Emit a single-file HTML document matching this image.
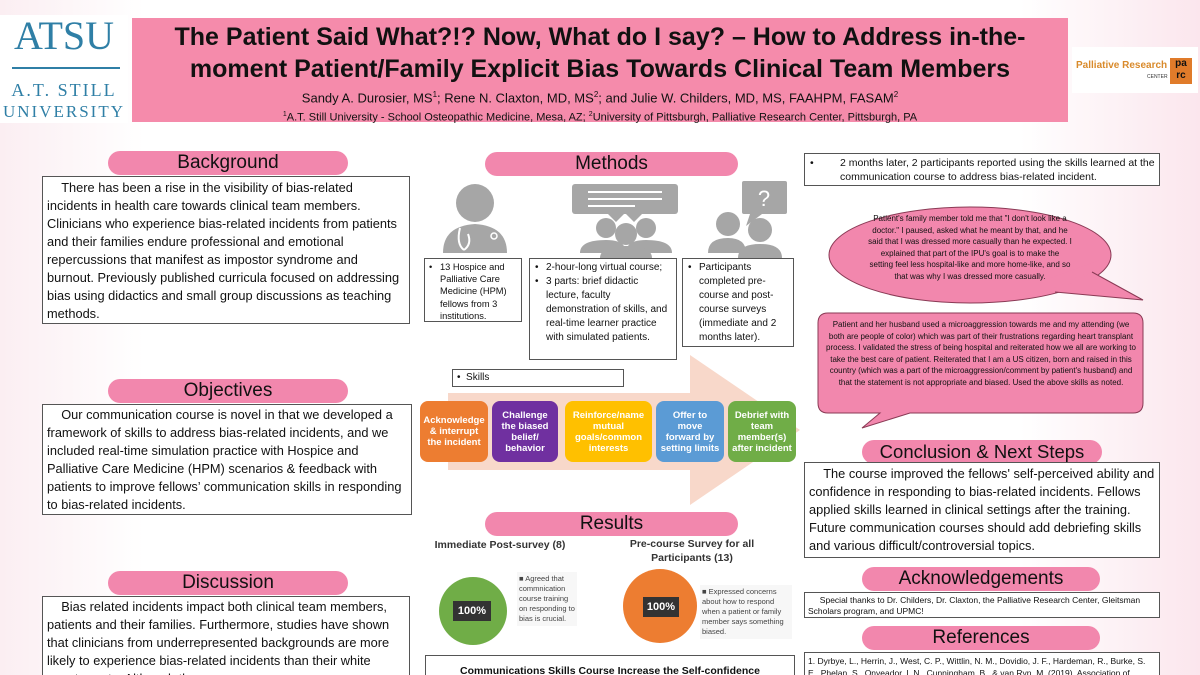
<!DOCTYPE html>
<html><head><meta charset="utf-8">
<style>
*{margin:0;padding:0;box-sizing:border-box}
html,body{width:1200px;height:675px;overflow:hidden}
body{position:relative;font-family:"Liberation Sans",sans-serif;background:linear-gradient(90deg,#fbeef2 0%,#fff 12%,#fff 85%,#fbe6ed 100%);color:#111}
.a{position:absolute}
.pill{position:absolute;background:#f287ad;border-radius:12px;text-align:center;font-size:19px;line-height:24px;color:#111}
.box{position:absolute;background:#fff;border:1px solid #555;font-size:12.8px;line-height:18px}
.sm{font-size:10px;line-height:14px;padding:2px 3px}
.sk{position:absolute;top:401px;height:61px;border-radius:8px;color:#fff;font-weight:bold;font-size:9.5px;line-height:11px;display:flex;align-items:center;justify-content:center;text-align:center}
ul{list-style:none}
li{position:relative;padding-left:13px}
li:before{content:"•";position:absolute;left:2px}
</style></head><body>
<div class="a" style="left:0;top:15px;width:128px;height:108px;background:#fff"></div>
<div class="a" style="left:0;top:12px;width:128px;text-align:center;font-family:'Liberation Serif',serif;font-size:40px;color:#2f7fa6">ATSU</div>
<div class="a" style="left:12px;top:67px;width:108px;height:2px;background:#2f7fa6"></div>
<div class="a" style="left:0;top:80px;width:128px;text-align:center;font-family:'Liberation Serif',serif;font-size:18px;letter-spacing:2px;color:#2f7fa6">A.T. STILL</div>
<div class="a" style="left:0;top:102px;width:128px;text-align:center;font-family:'Liberation Serif',serif;font-size:17px;letter-spacing:2px;color:#2f7fa6">UNIVERSITY</div>
<div class="a" style="left:132px;top:18px;width:936px;height:104px;background:#f58bab;text-align:center">
<div style="font-weight:bold;font-size:25px;line-height:32px;margin-top:3px">The Patient Said What?!? Now, What do I say? – How to Address in-the-<br>moment Patient/Family Explicit Bias Towards Clinical Team Members</div>
<div style="font-size:13px;line-height:18px;margin-top:1px">Sandy A. Durosier, MS<sup style="font-size:8px">1</sup>; Rene N. Claxton, MD, MS<sup style="font-size:8px">2</sup>; and Julie W. Childers, MD, MS, FAAHPM, FASAM<sup style="font-size:8px">2</sup></div>
<div style="font-size:11px;line-height:16px"><sup style="font-size:7px">1</sup>A.T. Still University - School Osteopathic Medicine, Mesa, AZ; <sup style="font-size:7px">2</sup>University of Pittsburgh, Palliative Research Center, Pittsburgh, PA</div>
</div>
<div class="a" style="left:1072px;top:47px;width:126px;height:46px;background:#fff"></div>
<div class="a" style="left:1076px;top:60px;font-size:10px;font-weight:bold;color:#d98a2b">Palliative Research</div>
<div class="a" style="left:1147px;top:74px;font-size:5px;color:#333">CENTER</div>
<div class="a" style="left:1170px;top:58px;width:22px;height:26px;background:#e07b2a;font-size:10px;font-weight:bold;line-height:12px;color:#111;text-align:center">pa<br>rc</div>

<div class="pill" style="left:108px;top:151px;width:240px">Background</div>
<div class="box" style="left:42px;top:176px;width:368px;height:148px;padding:2px 4px">&nbsp;&nbsp;&nbsp;&nbsp;There has been a rise in the visibility of bias-related incidents in health care towards clinical team members. Clinicians who experience bias-related incidents from patients and their families endure professional and emotional repercussions that manifest as impostor syndrome and burnout. Previously published curricula focused on addressing bias using didactics and small group discussions as teaching methods.</div>
<div class="pill" style="left:108px;top:379px;width:240px">Objectives</div>
<div class="box" style="left:42px;top:404px;width:370px;height:111px;padding:1px 4px">&nbsp;&nbsp;&nbsp;&nbsp;Our communication course is novel in that we developed a framework of skills to address bias-related incidents, and we included real-time simulation practice with Hospice and Palliative Care Medicine (HPM) scenarios &amp; feedback with patients to improve fellows’ communication skills in responding to bias-related incidents.</div>
<div class="pill" style="left:108px;top:571px;width:240px">Discussion</div>
<div class="box" style="left:42px;top:596px;width:368px;height:90px;padding:1px 4px">&nbsp;&nbsp;&nbsp;&nbsp;Bias related incidents impact both clinical team members, patients and their families. Furthermore, studies have shown that clinicians from underrepresented backgrounds are more likely to experience bias-related incidents than their white counterparts. Although there</div>

<div class="pill" style="left:485px;top:152px;width:253px">Methods</div>
<svg class="a" style="left:420px;top:178px" width="380" height="80">
<g fill="#a6a6a6">
<circle cx="55" cy="25" r="19"/>
<path d="M23 75 Q23 48 55 46 Q87 48 87 75Z"/>
<rect x="152" y="6" width="106" height="30" rx="3"/><path d="M188 36 L196 44 L204 36Z M206 36 L214 44 L222 36Z"/>
<circle cx="186" cy="50" r="10"/><circle cx="226" cy="50" r="10"/>
<path d="M160 75 Q160 62 186 62 Q200 62 204 68 L208 68 Q212 62 226 62 Q252 62 252 75Z"/>
<circle cx="206" cy="56" r="11"/>
<path d="M180 80 Q180 68 206 68 Q232 68 232 80Z"/>
<circle cx="308" cy="46" r="12"/><circle cx="340" cy="52" r="12"/>
<path d="M288 75 Q288 60 308 60 Q326 60 326 75Z M318 80 Q318 66 340 66 Q362 66 362 80Z"/>
<rect x="322" y="3" width="45" height="33" rx="2"/><path d="M330 36 L326 48 L342 36Z"/>
</g>
<path d="M40 50 Q36 66 44 72 M44 72 Q52 66 48 56" stroke="#fff" stroke-width="2" fill="none"/>
<circle cx="74" cy="58" r="3" stroke="#fff" stroke-width="1.5" fill="none"/>
<line x1="168" y1="14" x2="242" y2="14" stroke="#fff" stroke-width="2"/>
<line x1="168" y1="21" x2="242" y2="21" stroke="#fff" stroke-width="2"/>
<line x1="168" y1="28" x2="215" y2="28" stroke="#fff" stroke-width="2"/>
<text x="344" y="28" font-size="22" fill="#fff" text-anchor="middle" font-family="Liberation Sans">?</text>
</svg>
<div class="box sm" style="left:424px;top:258px;width:98px;height:64px;font-size:9.3px;line-height:12.2px;padding:2px 2px"><ul><li>13 Hospice and Palliative Care Medicine (HPM) fellows from 3 institutions.</li></ul></div>
<div class="box sm" style="left:529px;top:258px;width:148px;height:102px"><ul><li>2-hour-long virtual course;</li><li>3 parts: brief didactic lecture, faculty demonstration of skills, and real-time learner practice with simulated patients.</li></ul></div>
<div class="box sm" style="left:682px;top:258px;width:112px;height:89px"><ul><li>Participants completed pre-course and post-course surveys (immediate and 2 months later).</li></ul></div>
<svg class="a" style="left:440px;top:350px" width="370" height="160"><path d="M8 43 L250 43 L250 5 L360 80 L250 155 L250 120 L8 120Z" fill="#f8d8ca"/></svg>
<div class="box" style="left:452px;top:369px;width:172px;height:18px;font-size:10px;line-height:15px;padding-left:4px">• &nbsp;Skills</div>
<div class="sk" style="left:420px;width:68px;background:#ed7d31">Acknowledge<br>&amp; interrupt<br>the incident</div>
<div class="sk" style="left:492px;width:66px;background:#7030a0">Challenge<br>the biased<br>belief/<br>behavior</div>
<div class="sk" style="left:565px;width:87px;background:#ffc000">Reinforce/name<br>mutual<br>goals/common<br>interests</div>
<div class="sk" style="left:656px;width:68px;background:#5b9bd5">Offer to<br>move<br>forward by<br>setting limits</div>
<div class="sk" style="left:728px;width:68px;background:#70ad47">Debrief with<br>team<br>member(s)<br>after incident</div>

<div class="pill" style="left:485px;top:512px;width:253px">Results</div>
<div class="a" style="left:430px;top:539px;width:140px;text-align:center;font-size:10.5px;font-weight:bold;color:#333">Immediate Post-survey (8)</div>
<div class="a" style="left:612px;top:537px;width:160px;text-align:center;font-size:10.5px;font-weight:bold;line-height:14px;color:#333">Pre-course Survey for all Participants (13)</div>
<div class="a" style="left:439px;top:577px;width:68px;height:68px;border-radius:50%;background:#70ad47"></div>
<div class="a" style="left:453px;top:601px;width:38px;height:20px;background:#333;color:#fff;font-size:11px;font-weight:bold;text-align:center;line-height:20px">100%</div>
<div class="a" style="left:517px;top:572px;width:60px;font-size:7.5px;line-height:10px;color:#444;background:#f7f7f7;padding:2px">■ Agreed that commnication course training on responding to bias is crucial.</div>
<div class="a" style="left:623px;top:569px;width:74px;height:74px;border-radius:50%;background:#ed7d31"></div>
<div class="a" style="left:643px;top:597px;width:36px;height:20px;background:#333;color:#fff;font-size:11px;font-weight:bold;text-align:center;line-height:20px">100%</div>
<div class="a" style="left:700px;top:585px;width:92px;font-size:7.5px;line-height:10px;color:#444;background:#f7f7f7;padding:2px">■ Expressed concerns about how to respond when a patient or family member says something biased.</div>
<div class="box" style="left:425px;top:655px;width:370px;height:30px;text-align:center;font-size:10.5px;font-weight:bold;padding-top:6px">Communications Skills Course Increase the Self-confidence</div>

<div class="box sm" style="left:804px;top:153px;width:356px;height:33px;font-size:10.5px;line-height:14px"><ul><li style="padding-left:32px">2 months later, 2 participants reported using the skills learned at the communication course to address bias-related incident.</li></ul></div>
<svg class="a" style="left:800px;top:200px" width="400" height="240">
<ellipse cx="170" cy="55" rx="141" ry="48" fill="#f287ad" stroke="#8a3a55" stroke-width="1"/>
<path d="M255 92 L343 100 L292 72" fill="#f287ad" stroke="#8a3a55" stroke-width="1"/>
<path d="M250 90 L292 70 L300 60 L245 80Z" fill="#f287ad"/>
<path d="M28 113 L333 113 Q343 113 343 123 L343 203 Q343 213 333 213 L110 213 L62 228 L80 213 L28 213 Q18 213 18 203 L18 123 Q18 113 28 113Z" fill="#f287ad" stroke="#8a3a55" stroke-width="1"/>
</svg>
<div class="a" style="left:868px;top:213px;width:204px;font-size:8px;line-height:11.5px;text-align:center;color:#111">Patient's family member told me that "I don't look like a doctor." I paused, asked what he meant by that, and he said that I was dressed more casually than he expected. I explained that part of the IPU's goal is to make the setting feel less hospital-like and more home-like, and so that was why I was dressed more casually.</div>
<div class="a" style="left:824px;top:319px;width:314px;font-size:8px;line-height:11.5px;text-align:center;color:#111">Patient and her husband used a microaggression towards me and my attending (we both are people of color) which was part of their frustrations regarding heart transplant process. I validated the stress of being hospital and reiterated how we all are working to take the best care of patient. Reiterated that I am a US citizen, born and raised in this country (which was a part of the microaggression/comment by patient's husband) and that the statement is not appropriate and biased. Used the above skills as noted.</div>
<div class="pill" style="left:862px;top:440px;width:240px;font-size:18.5px">Conclusion &amp; Next Steps</div>
<div class="box" style="left:804px;top:462px;width:356px;height:96px;padding:2px 4px">&nbsp;&nbsp;&nbsp;&nbsp;The course improved the fellows' self-perceived ability and confidence in responding to bias-related incidents. Fellows applied skills learned in clinical settings after the training. Future communication courses should add debriefing skills and various difficult/controversial topics.</div>
<div class="pill" style="left:862px;top:567px;width:238px">Acknowledgements</div>
<div class="box" style="left:804px;top:592px;width:356px;height:26px;font-size:8.5px;line-height:11px;padding:2px 3px">&nbsp;&nbsp;&nbsp;&nbsp;&nbsp;Special thanks to Dr. Childers, Dr. Claxton, the Palliative Research Center, Gleitsman Scholars program, and UPMC!</div>
<div class="pill" style="left:862px;top:626px;width:238px">References</div>
<div class="box" style="left:804px;top:652px;width:356px;height:30px;font-size:8.5px;line-height:12px;padding:2px 3px">1. Dyrbye, L., Herrin, J., West, C. P., Wittlin, N. M., Dovidio, J. F., Hardeman, R., Burke, S. E., Phelan, S., Onyeador, I. N., Cunningham, B., &amp; van Ryn, M. (2019). Association of</div>
</body></html>
